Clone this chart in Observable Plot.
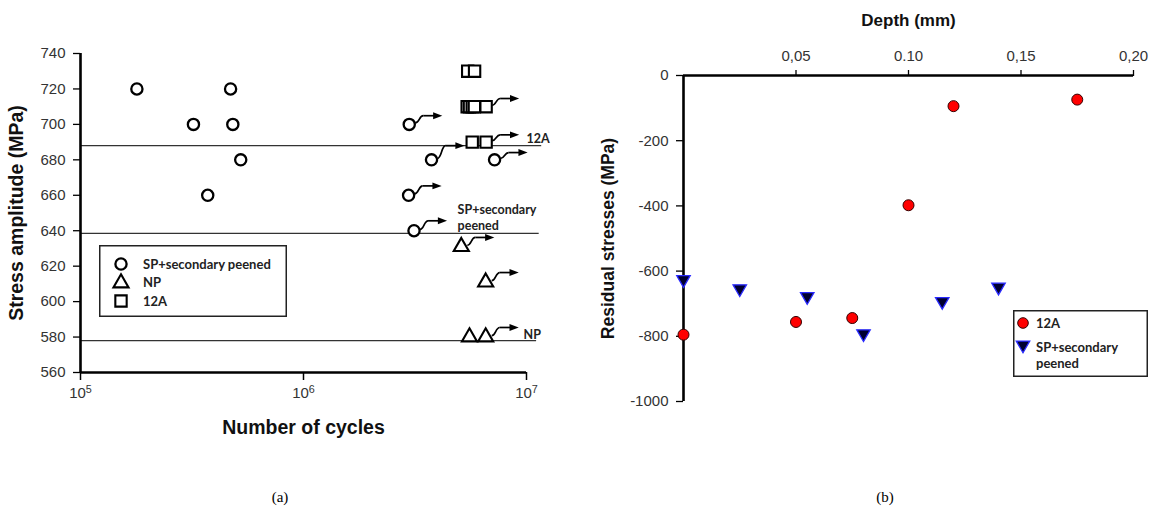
<!DOCTYPE html>
<html>
<head>
<meta charset="utf-8">
<script src="https://cdn.jsdelivr.net/npm/d3@7"></script>
<script src="https://cdn.jsdelivr.net/npm/@observablehq/plot@0.6"></script>
<style>
  html, body { margin: 0; padding: 0; background: #fff; }
  #wrap { position: relative; width: 1161px; height: 510px; overflow: hidden; background: #fff; }
  #wrap svg { overflow: visible; }
  .abs { position: absolute; }
  .cap { position: absolute; font-family: "Liberation Serif", "Times New Roman", serif; font-size: 15px; color: #000; transform: translate(-50%, -50%); }
</style>
</head>
<body>
<div id="wrap"></div>
<script>
// ---------------- Panel (a): S-N data ----------------
const spCycles   = [1.79e5, 3.21e5, 3.72e5, 4.71e5, 4.82e5, 5.23e5, 2.98e6, 3.75e6, 2.96e6, 3.13e6, 7.19e6];
const spStress   = [720, 700, 660, 720, 700, 680, 700, 680, 660, 640, 680];
const npCycles   = [5.1e6, 6.56e6, 5.55e6, 6.56e6];
const npStress   = [631, 611, 580, 580];
const a12Cycles  = [5.45e6, 5.85e6, 5.42e6, 5.55e6, 5.71e6, 5.84e6, 6.59e6, 5.71e6, 6.59e6];
const a12Stress  = [730, 730, 710, 710, 710, 710, 710, 690, 690];
// run-outs (arrows): specimen position and the stress level the arrow ends at
const runCycles  = [2.98e6, 3.75e6, 7.19e6, 2.96e6, 3.13e6, 5.1e6, 6.56e6, 6.56e6, 6.59e6, 6.59e6];
const runStress  = [700, 680, 680, 660, 640, 631, 611, 580, 710, 690];
const runTip     = [704.9, 688, 684.1, 665.3, 645.6, 636.2, 616.4, 585.4, 714.6, 694.1];
// fatigue limits
const limitStress = [688, 638.5, 578];
const limitEnd    = [1.17e7, 1.14e7, 1.11e7];
const limitLabels = ["12A", "SP+secondary\npeened", "NP"];
const limitLabelCycles = [1.0e7, 4.91e6, 9.7e6];
const limitLabelStress = [692.2, 647.8, 581.6];
const stressTicks = [560, 580, 600, 620, 640, 660, 680, 700, 720, 740];
const cycleTicks  = [1e5, 1e6, 1e7];
const cycleTickExp = ["5", "6", "7"];

// ---------------- Panel (b): residual stress profiles ----------------
const depth12A   = [0, 0.05, 0.075, 0.10, 0.12, 0.175];
const rs12A      = [-795, -756, -744, -398, -94, -74];
const depthSP    = [0, 0.025, 0.055, 0.08, 0.115, 0.14];
const rsSP       = [-626, -654, -678, -792, -693, -649];
const depthTicks = [0.05, 0.10, 0.15, 0.20];
const depthTickLabels = ["0,05", "0.10", "0,15", "0,20"];
const rsTicks    = [0, -200, -400, -600, -800, -1000];

const sans = "'Liberation Sans', Arial, sans-serif";
const labelFont = "Lato, 'Liberation Sans', sans-serif";

const sp  = spCycles.map((n, i) => ({n, s: spStress[i]}));
const np  = npCycles.map((n, i) => ({n, s: npStress[i]}));
const a12 = a12Cycles.map((n, i) => ({n, s: a12Stress[i]}));
const runs = runCycles.map((n, i) => ({n, s: runStress[i], tip: runTip[i]}));
const limits = limitStress.map((s, i) => ({s, end: limitEnd[i]}));
const limLab = limitLabels.map((t, i) => ({t, n: limitLabelCycles[i], s: limitLabelStress[i]}));

const dec = p => Math.pow(10, p / 222.6); // pixel offset -> log factor

const arrowHead = {
  draw(ctx, size) {
    const r = Math.sqrt(size / Math.PI);
    ctx.moveTo(0, 0);
    ctx.lineTo(-2 * r, -0.75 * r);
    ctx.lineTo(-2 * r, 0.75 * r);
    ctx.closePath();
  }
};

const chartA = Plot.plot({
  width: 580, height: 440,
  marginLeft: 80, marginRight: 54, marginTop: 53, marginBottom: 68,
  x: {type: "log", domain: [1e5, 1e7]},
  y: {domain: [560, 740]},
  style: {fontFamily: sans, background: "transparent", overflow: "visible"},
  marks: [
    Plot.ruleY(limits, {y: "s", x1: 1e5, x2: "end", stroke: "#333", strokeWidth: 1.3}),
    Plot.axisY({ticks: stressTicks, tickFormat: d => String(d), tickSize: 7, tickPadding: 8, fontSize: 15, fill: "#333", stroke: "#000", strokeWidth: 1.3, label: null}),
    Plot.axisX({ticks: cycleTicks, tickFormat: d => "10^" + cycleTickExp[cycleTicks.indexOf(d)], tickSize: 8, tickPadding: 7, fontSize: 15, fill: "#333", stroke: "#000", strokeWidth: 1.5, label: null}),
    Plot.ruleX([1e5], {y1: 560, y2: 740, stroke: "#000", strokeWidth: 2.6}),
    Plot.ruleY([560], {x1: 1e5, x2: 1e7, stroke: "#000", strokeWidth: 2.6}),
    // run-out arrows
    Plot.link(runs, {x1: d => d.n * dec(6), y1: d => d.s + 0.8, x2: d => d.n * dec(14), y2: "tip", curve: "bump-x", stroke: "#000", strokeWidth: 1.7}),
    Plot.link(runs, {x1: d => d.n * dec(14), y1: "tip", x2: d => d.n * dec(26), y2: "tip", stroke: "#000", strokeWidth: 1.7}),
    Plot.dot(runs, {x: d => d.n * dec(33), y: "tip", symbol: arrowHead, r: 4.6, fill: "#000", stroke: "none"}),
    // specimens
    Plot.dot(sp,  {x: "n", y: "s", symbol: "circle", r: 5.6, fill: "#fff", stroke: "#000", strokeWidth: 2.3}),
    Plot.dot(np,  {x: "n", y: "s", symbol: "triangle", r: 5.6, fill: "#fff", stroke: "#000", strokeWidth: 2.1}),
    Plot.dot(a12, {x: "n", y: "s", symbol: "square", r: 6.4, fill: "#fff", stroke: "#000", strokeWidth: 2.1}),
    Plot.text(limLab, {x: "n", y: "s", text: "t", textAnchor: "start", lineAnchor: "middle", lineHeight: 1.3, fontSize: 12.5, fontWeight: "bold", fontFamily: labelFont, fill: "#222"}),
    Plot.text(["Number of cycles"], {frameAnchor: "bottom", textAnchor: "middle", lineAnchor: "middle", dy: 55, fontSize: 19.5, fontWeight: "bold", fill: "#111"}),
    Plot.text(["Stress amplitude (MPa)"], {frameAnchor: "left", textAnchor: "middle", lineAnchor: "middle", dx: -64, rotate: -90, fontSize: 19.5, fontWeight: "bold", fill: "#111"})
  ]
});

// turn "10^5" tick labels into 10 with a superscript exponent
d3.select(chartA).selectAll("text").each(function() {
  const el = d3.select(this);
  const txt = el.text();
  const m = /^10\^(\d)$/.exec(txt);
  if (m) {
    el.text("10");
    el.append("tspan").attr("dy", "-0.45em").attr("font-size", "0.72em").text(m[1]);
  }
});

const chartB = Plot.plot({
  width: 571, height: 420,
  marginLeft: 93, marginRight: 28, marginTop: 75, marginBottom: 19,
  x: {domain: [0, 0.2]},
  y: {domain: [-1000, 0]},
  style: {fontFamily: sans, background: "transparent", overflow: "visible"},
  marks: [
    Plot.axisX({anchor: "top", ticks: depthTicks, tickFormat: d => depthTickLabels[depthTicks.indexOf(d)], tickSize: 6, tickPadding: 9, fontSize: 15, fill: "#333", stroke: "#000", strokeWidth: 1.3, label: null}),
    Plot.axisY({ticks: rsTicks, tickFormat: d => String(d), tickSize: 7, tickPadding: 8, fontSize: 15, fill: "#333", stroke: "#000", strokeWidth: 1.3, label: null}),
    Plot.ruleX([0], {y1: -1000, y2: 0, stroke: "#000", strokeWidth: 2.6}),
    Plot.ruleY([0], {x1: 0, x2: 0.2, stroke: "#000", strokeWidth: 2.6}),
    Plot.dot(depthSP.map((d, i) => ({d, v: rsSP[i]})), {x: "d", y: "v", symbol: "triangle", rotate: 180, r: 5, fill: "#000030", stroke: "#2a2aff", strokeWidth: 1.3}),
    Plot.dot(depth12A.map((d, i) => ({d, v: rs12A[i]})), {x: "d", y: "v", symbol: "circle", r: 5.5, fill: "#ff0000", stroke: "#300", strokeWidth: 1}),
    Plot.text(["Depth (mm)"], {frameAnchor: "top", textAnchor: "middle", lineAnchor: "middle", dy: -55, fontSize: 17, fontWeight: "bold", fill: "#111"}),
    Plot.text(["Residual stresses (MPa)"], {frameAnchor: "left", textAnchor: "middle", lineAnchor: "middle", dx: -75, rotate: -90, fontSize: 17.5, fontWeight: "bold", fill: "#111"})
  ]
});

const wrap = document.getElementById("wrap");
chartA.classList.add("abs"); chartA.style.left = "0px"; chartA.style.top = "0px";
chartB.classList.add("abs"); chartB.style.left = "590px"; chartB.style.top = "0px";
wrap.appendChild(chartA);
wrap.appendChild(chartB);

// legends (drawn as small SVGs with real text)
function legend(left, top, w, h, items) {
  const svg = d3.create("svg").attr("width", w).attr("height", h)
    .attr("class", "abs").style("left", left + "px").style("top", top + "px");
  svg.append("rect").attr("x", 0.75).attr("y", 0.75).attr("width", w - 1.5).attr("height", h - 1.5)
    .attr("fill", "#fff").attr("stroke", "#222").attr("stroke-width", 1.5);
  for (const it of items) {
    const sym = d3.symbol().type(it.type).size(Math.PI * it.r * it.r)();
    svg.append("path").attr("d", sym)
      .attr("transform", `translate(${it.sx},${it.sy}) rotate(${it.rot || 0})`)
      .attr("fill", it.fill).attr("stroke", it.stroke).attr("stroke-width", it.sw);
    const t = svg.append("text").attr("x", it.tx).attr("y", it.ty)
      .attr("font-family", labelFont).attr("font-size", 13).attr("font-weight", "bold").attr("fill", "#222");
    it.text.split("\n").forEach((line, k) => {
      t.append("tspan").attr("x", it.tx).attr("dy", k === 0 ? "0.35em" : "1.25em").text(line);
    });
  }
  wrap.appendChild(svg.node());
}
legend(99, 245, 188, 72, [
  {type: d3.symbolCircle, r: 5.6, sx: 22, sy: 19, fill: "#fff", stroke: "#000", sw: 2.3, tx: 44, ty: 19, text: "SP+secondary peened"},
  {type: d3.symbolTriangle, r: 5.6, sx: 22, sy: 38, fill: "#fff", stroke: "#000", sw: 2.1, tx: 44, ty: 37, text: "NP"},
  {type: d3.symbolSquare, r: 6.4, sx: 22, sy: 56, fill: "#fff", stroke: "#000", sw: 2.1, tx: 44, ty: 56, text: "12A"}
]);
legend(1013, 310, 135, 67, [
  {type: d3.symbolCircle, r: 5.3, sx: 10, sy: 13, fill: "#ff0000", stroke: "#300", sw: 1, tx: 23, ty: 13, text: "12A"},
  {type: d3.symbolTriangle, r: 5, sx: 10, sy: 35, rot: 180, fill: "#000030", stroke: "#2a2aff", sw: 1.3, tx: 23, ty: 37, text: "SP+secondary\npeened"}
]);

// captions
for (const [txt, x] of [["(a)", 280], ["(b)", 885]]) {
  const c = document.createElement("div");
  c.className = "cap"; c.textContent = txt;
  c.style.left = x + "px"; c.style.top = "497px";
  wrap.appendChild(c);
}
</script>
</body>
</html>
